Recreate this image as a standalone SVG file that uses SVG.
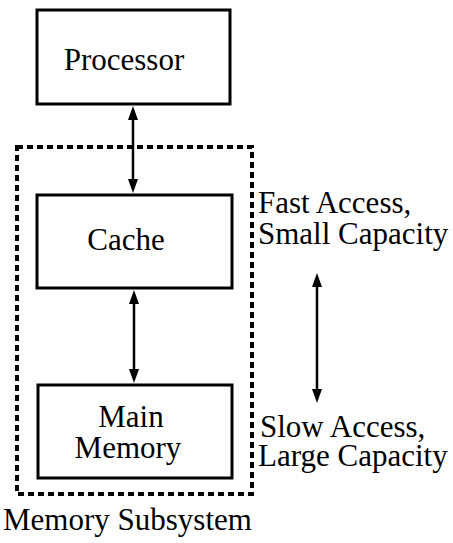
<svg xmlns="http://www.w3.org/2000/svg" width="453" height="543" viewBox="0 0 453 543">
  <style>
    .box { fill: #fff; stroke: #000; stroke-width: 3; }
    .wire { stroke: #000; stroke-width: 2.5; fill: none; }
    .tip { fill: #000; }
    .frame { fill: none; stroke: #000; stroke-width: 4; stroke-dasharray: 6 4; }
  </style>
  <g id="subsystem">
    <rect class="frame" x="17" y="147" width="235" height="347"/>
    <text x="3" y="530" font-family="Liberation Serif" font-size="31">Memory Subsystem</text>
  </g>
  <g id="processor">
    <rect class="box" x="37" y="10" width="193" height="94"/>
    <text x="124" y="70" text-anchor="middle" font-family="Liberation Serif" font-size="31">Processor</text>
  </g>
  <g id="cache">
    <rect class="box" x="37" y="195" width="195" height="93"/>
    <text x="126" y="250" text-anchor="middle" font-family="Liberation Serif" font-size="31">Cache</text>
  </g>
  <g id="main-memory">
    <rect class="box" x="38" y="385" width="194" height="93"/>
    <text x="131" y="427" text-anchor="middle" font-family="Liberation Serif" font-size="31">Main</text>
    <text x="128" y="458" text-anchor="middle" font-family="Liberation Serif" font-size="31">Memory</text>
  </g>
  <g id="connectors">
    <line class="wire" x1="133" y1="118" x2="133" y2="181"/>
    <polygon class="tip" points="133,106 128,120 138,120"/>
    <polygon class="tip" points="133,193 128,179 138,179"/>
    <line class="wire" x1="134" y1="302" x2="134" y2="371"/>
    <polygon class="tip" points="134,290 129,304 139,304"/>
    <polygon class="tip" points="134,383 129,369 139,369"/>
    <line class="wire" x1="317" y1="285" x2="317" y2="391"/>
    <polygon class="tip" points="317,273 312,287 322,287"/>
    <polygon class="tip" points="317,403 312,389 322,389"/>
  </g>
  <g id="speed-notes">
    <text x="258" y="213" font-family="Liberation Serif" font-size="31">Fast Access,</text>
    <text x="258" y="244" font-family="Liberation Serif" font-size="31">Small Capacity</text>
    <text x="260" y="437" font-family="Liberation Serif" font-size="31">Slow Access,</text>
    <text x="258" y="466" font-family="Liberation Serif" font-size="31">Large Capacity</text>
  </g>
</svg>
